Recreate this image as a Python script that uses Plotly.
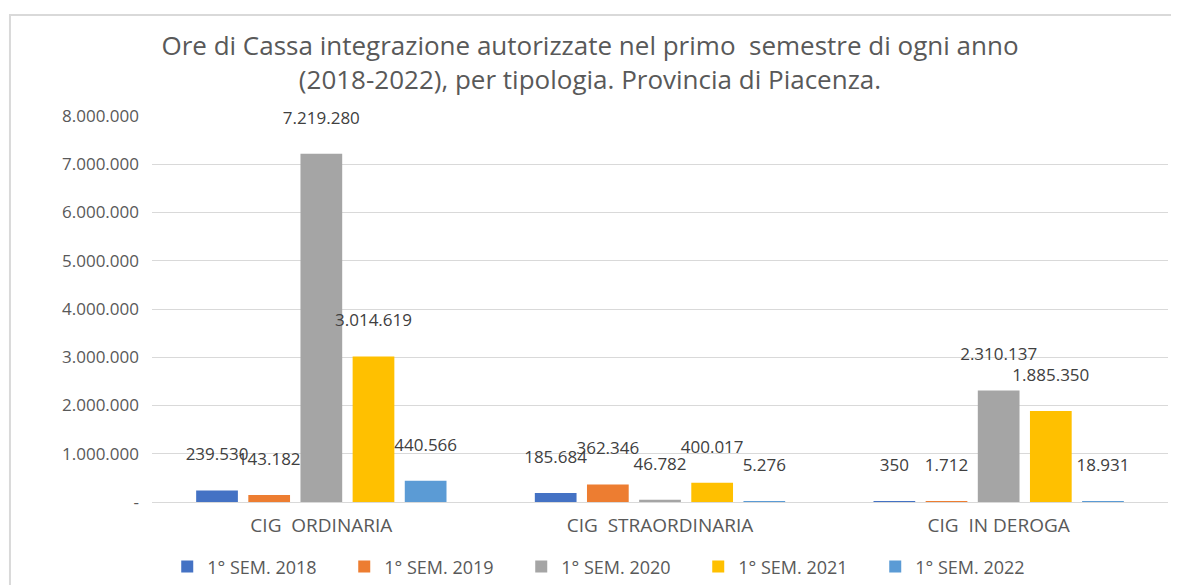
import plotly.graph_objects as go

categories = ["CIG  ORDINARIA", "CIG  STRAORDINARIA", "CIG  IN DEROGA"]
series_names = ["1° SEM. 2018", "1° SEM. 2019", "1° SEM. 2020", "1° SEM. 2021", "1° SEM. 2022"]
sem_2018 = [239530, 185684, 350]
sem_2019 = [143182, 362346, 1712]
sem_2020 = [7219280, 46782, 2310137]
sem_2021 = [3014619, 400017, 1885350]
sem_2022 = [440566, 5276, 18931]
series_values = [sem_2018, sem_2019, sem_2020, sem_2021, sem_2022]
colors = ["#4472C4", "#ED7D31", "#A5A5A5", "#FFC000", "#5B9BD5"]
tick_values = [0, 1000000, 2000000, 3000000, 4000000, 5000000, 6000000, 7000000, 8000000]
tick_labels = ["-", "1.000.000", "2.000.000", "3.000.000", "4.000.000", "5.000.000",
               "6.000.000", "7.000.000", "8.000.000"]
title_text = ("Ore di Cassa integrazione autorizzate nel primo  semestre di ogni anno<br>"
              "(2018-2022), per tipologia. Provincia di Piacenza.")

FONT = "Open Sans"
fig = go.Figure()
for name, vals, col in zip(series_names, series_values, colors):
    fig.add_trace(go.Bar(
        x=categories, y=vals, name=name, marker_color=col, marker_line_width=0,
        texttemplate="%{y:,d}<br> ", textposition="outside", constraintext="none",
        cliponaxis=False,
        textfont=dict(family=FONT, size=17, color="#404040"),
    ))

fig.update_layout(
    width=1171, height=577,
    separators=",.",
    barmode="group", bargap=0.23, bargroupgap=0.2,
    plot_bgcolor="white", paper_bgcolor="white",
    margin=dict(l=144, r=11, t=108, b=83, autoexpand=False),
    title=dict(text=title_text, x=0.497, xref="container", xanchor="center",
               yref="container", y=0.918, yanchor="top",
               font=dict(family=FONT, size=26, color="#595959")),
    font=dict(family=FONT, color="#595959"),
    xaxis=dict(showgrid=False, showline=False, ticks="",
               tickfont=dict(family=FONT, size=19, color="#595959"),
               ticklabelstandoff=10),
    yaxis=dict(range=[0, 8000000], tickvals=tick_values, ticktext=tick_labels,
               showgrid=True, gridcolor="#D9D9D9", gridwidth=1,
               zeroline=True, zerolinecolor="#D9D9D9", zerolinewidth=1,
               tickfont=dict(family=FONT, size=17, color="#595959"), ticks="",
               ticklabelstandoff=12),
    legend=dict(orientation="h", x=0.015, xanchor="left", y=-0.168, yanchor="middle",
                font=dict(family=FONT, size=18, color="#595959"),
                itemwidth=30, traceorder="normal",
                entrywidth=132, entrywidthmode="pixels"),
    shapes=[dict(type="rect", xref="paper", yref="paper",
                 x0=-0.1398, x1=1.03, y0=-0.35, y1=1.2617,
                 line=dict(color="#D9D9D9", width=2), fillcolor="rgba(0,0,0,0)",
                 layer="below")],
)

fig.write_html("out.html")
